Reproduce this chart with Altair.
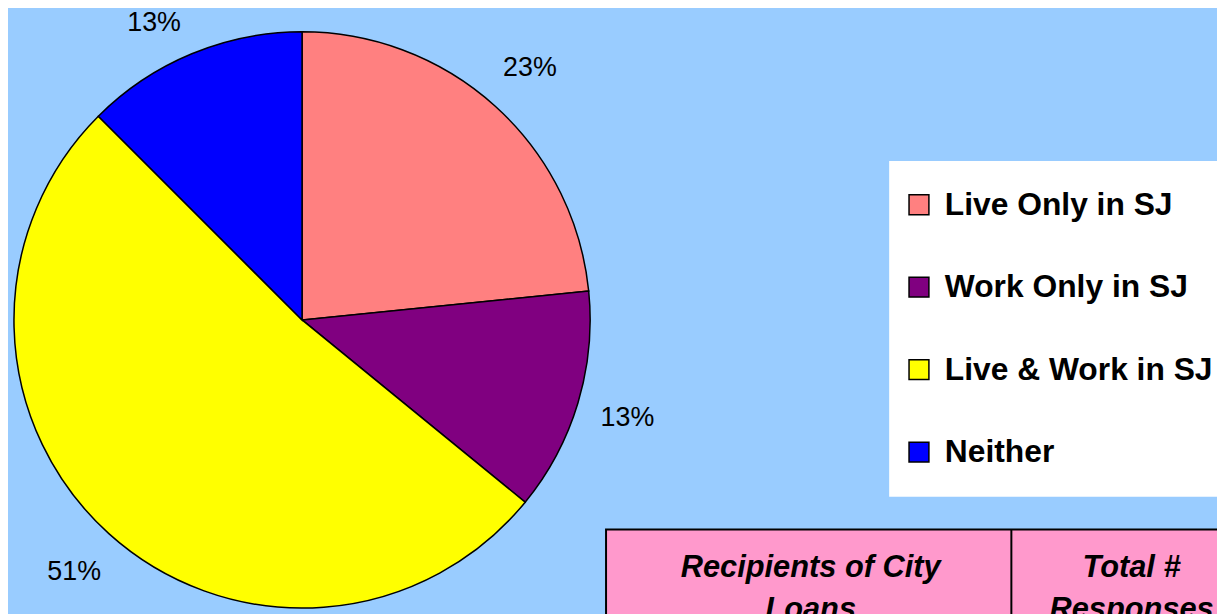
import altair as alt
import pandas as pd

categories = ["Live Only in SJ", "Work Only in SJ", "Live & Work in SJ", "Neither"]
shares = [23.4, 12.5, 51.6, 12.5]
slice_colors = ["#FF8080", "#800080", "#FFFF00", "#0000FF"]
pct_labels = ["23%", "13%", "51%", "13%"]
table_headers = ["Recipients of City\nLoans", "Total #\nResponses"]

FONT = "Liberation Sans"
W, H = 1217, 606
CX, CY = 296, 312
R = 290

df = pd.DataFrame({"cat": categories, "share": shares, "label": pct_labels,
                   "idx": list(range(len(categories)))})
one = pd.DataFrame({"k": [0]})

legend_box = alt.Chart(one).mark_rect(fill="white").encode(
    x=alt.value(887), x2=alt.value(1320), y=alt.value(152), y2=alt.value(490)
)

table_box = alt.Chart(one).mark_rect(fill="#FF99CC", stroke="black", strokeWidth=2).encode(
    x=alt.value(602), x2=alt.value(1320), y=alt.value(523), y2=alt.value(700)
)
table_div = alt.Chart(one).mark_rule(color="black", strokeWidth=2).encode(
    x=alt.value(1010), y=alt.value(523), y2=alt.value(700)
)
hdr_style = dict(font=FONT, fontSize=31, fontWeight="bold", fontStyle="italic",
                 lineBreak="\n", lineHeight=42, align="center", baseline="alphabetic",
                 color="black")
hdr1 = alt.Chart(pd.DataFrame({"t": [table_headers[0]]})).mark_text(**hdr_style).encode(
    text="t:N", x=alt.value(808), y=alt.value(571))
hdr2 = alt.Chart(pd.DataFrame({"t": [table_headers[1]]})).mark_text(**hdr_style).encode(
    text="t:N", x=alt.value(1131), y=alt.value(571))

base = alt.Chart(df).encode(
    theta=alt.Theta("share:Q", stack=True),
    order=alt.Order("idx:Q"),
)
pie = base.mark_arc(outerRadius=R, stroke="black", strokeWidth=1.5).encode(
    color=alt.Color(
        "cat:N",
        scale=alt.Scale(domain=categories, range=slice_colors),
        sort=categories,
        legend=alt.Legend(
            orient="none", legendX=901, legendY=180, title=None,
            symbolType="square", symbolSize=400, symbolStrokeColor="black",
            symbolStrokeWidth=1.5, symbolOpacity=1,
            labelFont=FONT, labelFontSize=32, labelFontWeight="bold", labelColor="black",
            labelOffset=10, rowPadding=51, padding=0, labelLimit=0,
        ),
    ),
    x=alt.value(CX), y=alt.value(CY),
)
labels = base.mark_text(radius=342, font=FONT, fontSize=27, color="black").encode(
    text="t_main:N", x=alt.value(CX), y=alt.value(CY)
).transform_calculate(t_main="datum.idx < 3 ? datum.label : ''")
label_top = base.mark_text(radius=324, dx=-25, font=FONT, fontSize=27, color="black").encode(
    text="t_top:N", x=alt.value(CX), y=alt.value(CY)
).transform_calculate(t_top="datum.idx == 3 ? datum.label : ''")

chart = alt.layer(legend_box, table_box, table_div, hdr1, hdr2, pie, labels, label_top).properties(
    width=W, height=H, padding=0, autosize=alt.AutoSizeParams(type="none"),
    background="#99CCFF",
).configure_view(stroke=None)

chart.save("out.html", embed_options={"renderer": "svg", "actions": False})
